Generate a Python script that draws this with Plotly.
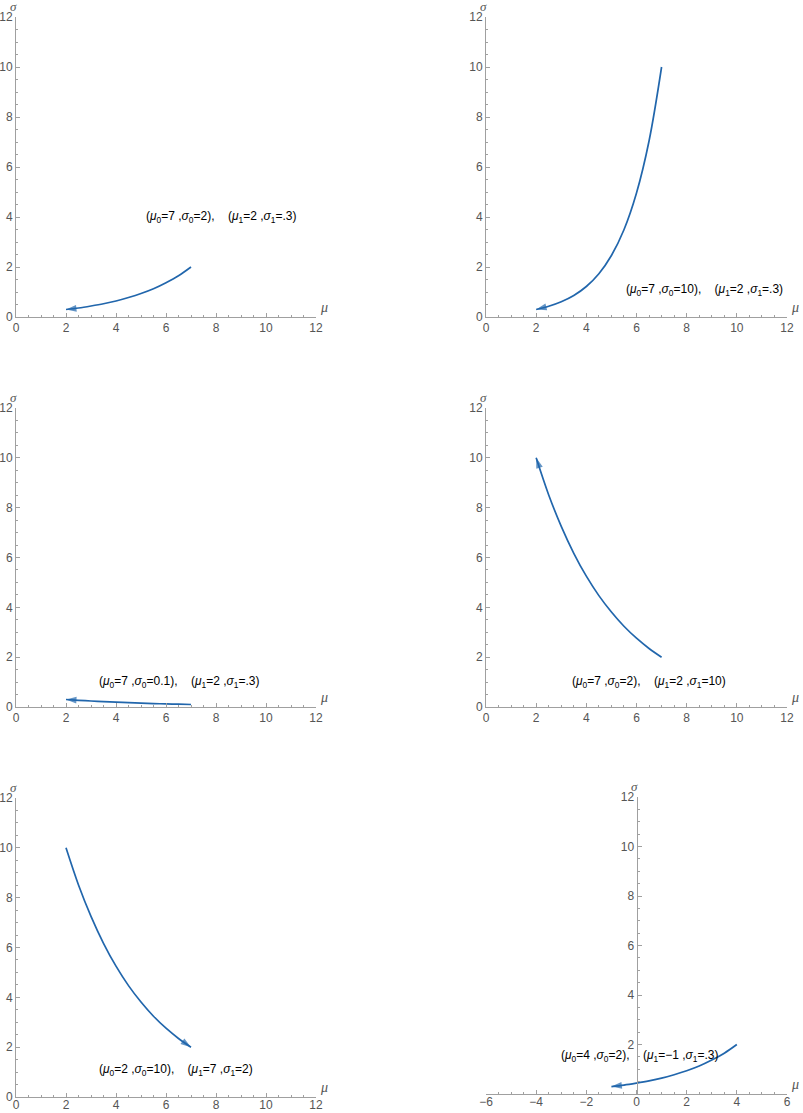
import plotly.graph_objects as go

# ==========================================
# DATOS
# ==========================================
mu_a = [7.0, 6.5, 6.0, 5.5, 5.0, 4.5, 4.0, 3.5, 3.0, 2.5, 2.0]
sigma_1 = [2.0, 1.65, 1.37, 1.13, 0.94, 0.78, 0.64, 0.53, 0.44, 0.36, 0.30]
sigma_2 = [10.0, 7.04, 4.96, 3.49, 2.46, 1.73, 1.22, 0.86, 0.61, 0.43, 0.30]
sigma_3 = [0.10, 0.112, 0.124, 0.139, 0.155, 0.173, 0.193, 0.216, 0.241, 0.269, 0.30]
sigma_4 = [2.0, 2.35, 2.76, 3.24, 3.81, 4.47, 5.25, 6.17, 7.25, 8.51, 10.0]

mu_5 = [2.0, 2.5, 3.0, 3.5, 4.0, 4.5, 5.0, 5.5, 6.0, 6.5, 7.0]
sigma_5 = [10.0, 8.51, 7.25, 6.17, 5.25, 4.47, 3.81, 3.24, 2.76, 2.35, 2.0]

mu_6 = [4.0, 3.5, 3.0, 2.5, 2.0, 1.5, 1.0, 0.5, 0.0, -0.5, -1.0]
sigma_6 = [2.0, 1.65, 1.37, 1.13, 0.94, 0.78, 0.64, 0.53, 0.44, 0.36, 0.30]

labels = [
    ("(<i>μ</i><sub>0</sub>=7 ,<i>σ</i><sub>0</sub>=2),", "(<i>μ</i><sub>1</sub>=2 ,<i>σ</i><sub>1</sub>=.3)"),
    ("(<i>μ</i><sub>0</sub>=7 ,<i>σ</i><sub>0</sub>=10),", "(<i>μ</i><sub>1</sub>=2 ,<i>σ</i><sub>1</sub>=.3)"),
    ("(<i>μ</i><sub>0</sub>=7 ,<i>σ</i><sub>0</sub>=0.1),", "(<i>μ</i><sub>1</sub>=2 ,<i>σ</i><sub>1</sub>=.3)"),
    ("(<i>μ</i><sub>0</sub>=7 ,<i>σ</i><sub>0</sub>=2),", "(<i>μ</i><sub>1</sub>=2 ,<i>σ</i><sub>1</sub>=10)"),
    ("(<i>μ</i><sub>0</sub>=2 ,<i>σ</i><sub>0</sub>=10),", "(<i>μ</i><sub>1</sub>=7 ,<i>σ</i><sub>1</sub>=2)"),
    ("(<i>μ</i><sub>0</sub>=4 ,<i>σ</i><sub>0</sub>=2),", "(<i>μ</i><sub>1</sub>=−1 ,<i>σ</i><sub>1</sub>=.3)"),
]
label_pos = [(8.2, 4.0), (8.7, 1.1), (6.5, 1.0), (6.5, 1.0), (6.4, 1.1), (0.1, 1.55)]

curves = [
    (mu_a, sigma_1), (mu_a, sigma_2), (mu_a, sigma_3),
    (mu_a, sigma_4), (mu_5, sigma_5), (mu_6, sigma_6),
]
x_ranges = [[0, 12]] * 5 + [[-6, 6]]

# ==========================================
# LAYOUT (pixeles de la imagen)
# ==========================================
W, H = 803, 1113
cols = [(16, 316), (486, 787)]
rows = [(17, 317), (408, 707), (798, 1097)]
AZUL = "#2166ac"
GRIS_EJE = "#a0a0a0"
GRIS_TXT = "#555555"

fig = go.Figure()
annotations = []

for i, ((xs, ys), (t0, t1), (lx, ly), xr) in enumerate(zip(curves, labels, label_pos, x_ranges)):
    r, c = divmod(i, 2)
    px0, px1 = cols[c]
    py0, py1 = rows[r]
    if i == 5:
        py0, py1 = 797, 1094
    n = i + 1
    xa = "x" if n == 1 else f"x{n}"
    ya = "y" if n == 1 else f"y{n}"

    sizes = [0] * (len(xs) - 1) + [11]
    fig.add_trace(go.Scatter(
        x=xs, y=ys, mode="lines+markers",
        line=dict(color=AZUL, width=1.7, shape="spline"),
        marker=dict(symbol="arrow", angleref="previous", size=sizes, color=AZUL,
                    line=dict(width=0)),
        xaxis=xa, yaxis=ya, showlegend=False, hoverinfo="skip",
    ))

    dom_x = [px0 / W, px1 / W]
    dom_y = [1 - py1 / H, 1 - py0 / H]
    ax_common = dict(
        showgrid=False, zeroline=False, showline=True, linecolor=GRIS_EJE, linewidth=1,
        ticks="inside", ticklen=4, tickcolor=GRIS_EJE, tickwidth=1,
        tickfont=dict(family="Liberation Sans, Arial", size=12, color=GRIS_TXT),
        minor=dict(dtick=0.5, ticks="inside", ticklen=2, tickcolor=GRIS_EJE),
        dtick=2, fixedrange=True, automargin=False,
    )
    xaxis = dict(ax_common, domain=dom_x, range=xr, anchor=ya, tick0=0)
    if r == 2:
        # fila inferior: acercar las etiquetas para que no se corten en el borde
        xaxis["ticklabelstandoff"] = -3
    if i == 5:
        yaxis = dict(ax_common, domain=dom_y, range=[0, 12], anchor="free",
                     position=(px0 + (px1 - px0) / 2) / W, tickvals=[2, 4, 6, 8, 10, 12])
        yaxis["minor"] = dict(tickvals=[v / 2 for v in range(1, 24) if v % 4 != 0],
                              ticks="inside", ticklen=2, tickcolor=GRIS_EJE)
    else:
        yaxis = dict(ax_common, domain=dom_y, range=[0, 12], anchor=xa)
    fig.update_layout(**{
        ("xaxis" if n == 1 else f"xaxis{n}"): xaxis,
        ("yaxis" if n == 1 else f"yaxis{n}"): yaxis,
    })

    # etiqueta de parámetros
    annotations.append(dict(
        x=lx, y=ly, xref=xa, yref=ya, showarrow=False,
        text=t0 + "\u00a0\u00a0\u00a0\u00a0" + t1,
        font=dict(family="Liberation Sans, Arial", size=12, color="black"),
        xanchor="center", yanchor="middle",
    ))
    # nombres de ejes
    annotations.append(dict(
        x=xr[1], y=0, xref=xa, yref=ya, showarrow=False, text="<i>μ</i>",
        font=dict(family="Liberation Serif, Times New Roman", size=14, color=GRIS_TXT),
        xanchor="left", yanchor="bottom", xshift=2,
    ))
    annotations.append(dict(
        x=0, y=12, xref=xa, yref=ya, showarrow=False, text="<i>σ</i>",
        font=dict(family="Liberation Serif, Times New Roman", size=13, color=GRIS_TXT),
        xanchor="right", yanchor="bottom", yshift=1, xshift=3,
    ))

fig.update_layout(
    width=W, height=H,
    margin=dict(l=0, r=0, t=0, b=0),
    paper_bgcolor="white", plot_bgcolor="white",
    annotations=annotations,
)

# quitar el margen por defecto del <body> para que la figura ocupe toda la ventana
fig.write_html("out.html",
               config={"displayModeBar": False},
               post_script="document.body.style.margin='0px';document.body.style.overflow='hidden';")
